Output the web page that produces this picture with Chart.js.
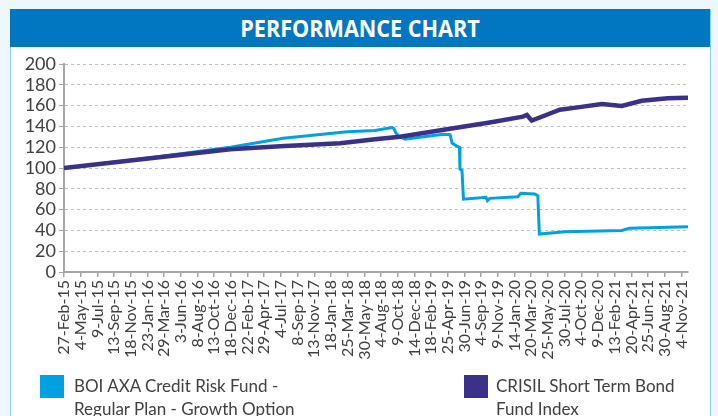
<!DOCTYPE html>
<html>
<head>
<meta charset="utf-8">
<script src="https://cdn.jsdelivr.net/npm/chart.js@4.4.1/dist/chart.umd.min.js"></script>
<style>
  html, body { margin: 0; padding: 0; }
  body { width: 718px; height: 416px; background: #eef7fb; position: relative; overflow: hidden; font-family: Lato, "Open Sans", sans-serif; }
  #card { position: absolute; left: 10px; top: 9px; width: 699px; height: 420px; background: #ffffff; border-left: 1px solid #8ad3ec; border-right: 1px solid #8ad3ec; }
  #header { position: absolute; left: 10px; top: 9px; width: 700px; height: 38px; background: #0077c0; color: #fff; text-align: center; font-family: "Open Sans", sans-serif; font-weight: 700; font-size: 24px; line-height: 38px; }
  #header span { display: inline-block; transform: scaleX(0.9); }
  #wrap { position: absolute; left: 11px; top: 47px; width: 698px; height: 330px; }
  .leg { position: absolute; color: #404040; font-size: 17px; line-height: 23px; font-family: Lato, sans-serif; }
  .sw { position: absolute; width: 24px; height: 23px; }
</style>
</head>
<body>
<div id="card"></div>
<div id="header"><span>PERFORMANCE CHART</span></div>
<div id="wrap"><canvas id="c"></canvas></div>
<div class="sw" style="left:40px; top:375px; background:#00a0e3;"></div>
<div class="leg" style="left:74px; top:374px;">BOI AXA Credit Risk Fund -<br>Regular Plan - Growth Option</div>
<div class="sw" style="left:464px; top:375px; background:#3b3188;"></div>
<div class="leg" style="left:496px; top:374px;">CRISIL Short Term Bond<br>Fund Index</div>
<script>
// x values are days since 27-Feb-15
const tickLabels = ["27-Feb-15","4-May-15","9-Jul-15","13-Sep-15","18-Nov-15","23-Jan-16","29-Mar-16","3-Jun-16","8-Aug-16","13-Oct-16","18-Dec-16","22-Feb-17","29-Apr-17","4-Jul-17","8-Sep-17","13-Nov-17","18-Jan-18","25-Mar-18","30-May-18","4-Aug-18","9-Oct-18","14-Dec-18","18-Feb-19","25-Apr-19","30-Jun-19","4-Sep-19","9-Nov-19","14-Jan-20","20-Mar-20","25-May-20","30-Jul-20","4-Oct-20","9-Dec-20","13-Feb-21","20-Apr-21","25-Jun-21","30-Aug-21","4-Nov-21"];
const labelStepDays = 66;
const lastDay = 2468;

const fundDays   = [0, 342, 658, 867, 1120, 1230, 1281, 1297, 1305, 1313, 1325, 1349, 1499, 1527, 1535, 1554, 1564, 1566, 1574, 1580, 1669, 1675, 1684, 1795, 1807, 1862, 1874, 1880, 1981, 2206, 2237, 2468];
const fundValues = [100, 109.8, 120, 128.5, 134.9, 136, 138.2, 139, 138, 133.5, 130.5, 127.6, 132.5, 132, 124, 121, 120, 99, 98, 70, 71.8, 68.6, 70.8, 72.4, 75.8, 75, 73.5, 36.5, 38.8, 40, 42, 43.6];

const indexDays   = [0, 342, 658, 855, 1092, 1230, 1329, 1527, 1684, 1815, 1831, 1850, 1902, 1961, 2032, 2127, 2206, 2285, 2388, 2468];
const indexValues = [100, 109.3, 118, 121, 123.8, 127.6, 130, 137.8, 143.8, 149.4, 151, 145.5, 150.5, 156, 158.3, 161.5, 159.6, 164.7, 167, 167.6];

const yTicks = [0, 20, 40, 60, 80, 100, 120, 140, 160, 180, 200];

const toPoints = (xs, ys) => xs.map((x, i) => ({ x: x, y: ys[i] }));

new Chart(document.getElementById('c'), {
  type: 'line',
  data: {
    datasets: [
      { label: 'BOI AXA Credit Risk Fund - Regular Plan - Growth Option', data: toPoints(fundDays, fundValues), borderColor: '#00a0e3', borderWidth: 3, pointRadius: 0, tension: 0, order: 1, borderJoinStyle: 'miter' },
      { label: 'CRISIL Short Term Bond Fund Index', data: toPoints(indexDays, indexValues), borderColor: '#3b3188', borderWidth: 4.5, pointRadius: 0, tension: 0, order: 0 }
    ]
  },
  options: {
    responsive: true,
    maintainAspectRatio: false,
    animation: false,
    layout: { padding: { top: 17, right: 21, left: 0, bottom: 0 } },
    plugins: { legend: { display: false }, tooltip: { enabled: false } },
    scales: {
      x: {
        type: 'linear', min: 0, max: lastDay,
        afterBuildTicks: (s) => { s.ticks = tickLabels.map((_, i) => ({ value: i * labelStepDays })); },
        afterFit: (s) => { s.height = 105; },
        ticks: { autoSkip: false, minRotation: 90, maxRotation: 90, padding: 3, color: '#404040', font: { family: 'Lato', size: 16 }, callback: (v, i) => tickLabels[i] },
        grid: { drawOnChartArea: false, drawTicks: true, tickLength: 5, color: '#a6a6a6', lineWidth: 1.5 },
        border: { display: true, color: '#a6a6a6', width: 2 }
      },
      y: {
        min: 0, max: 200,
        afterBuildTicks: (s) => { s.ticks = yTicks.map(v => ({ value: v })); },
        afterFit: (s) => { s.width = 53; },
        ticks: { autoSkip: false, padding: 3, color: '#404040', font: { family: 'Lato', size: 18 } },
        grid: { color: '#bdbdbd', lineWidth: 1, tickLength: 5, tickColor: '#a6a6a6', tickBorderDash: [] },
        border: { display: true, color: '#a6a6a6', width: 2, dash: [3, 3] }
      }
    }
  }
});
</script>
</body>
</html>
